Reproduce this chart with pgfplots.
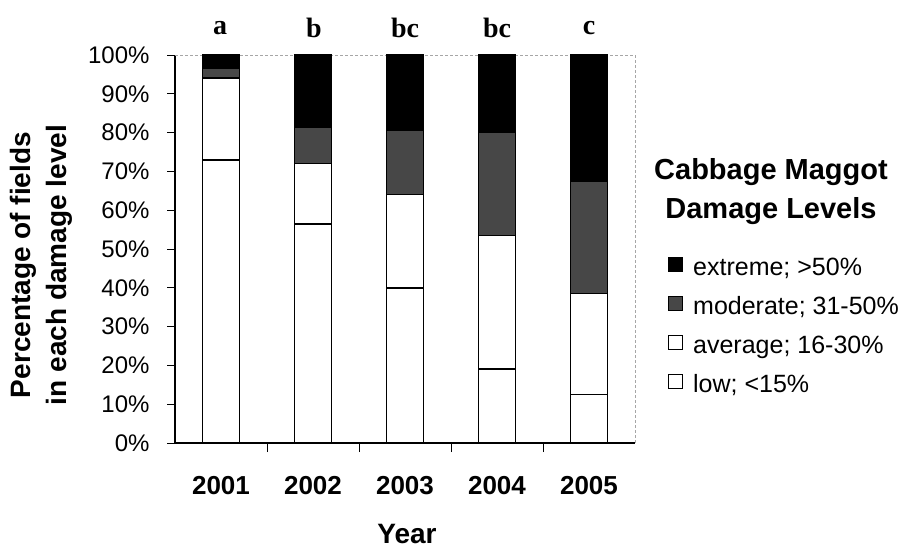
\documentclass[border=0pt]{standalone}
\usepackage{pgfplots}
\pgfplotsset{compat=1.18}
\usepackage{fontspec}
\setmainfont{Liberation Sans}
\newfontfamily\serifb{Liberation Serif}
\begin{document}
\begin{tikzpicture}[x=1pt,y=1pt]
\useasboundingbox (0,0) rectangle (907,550);
\begin{axis}[
  at={(175pt,107pt)}, anchor=south west,
  scale only axis, width=460pt, height=388pt,
  ybar stacked, bar width=37pt,
  xmin=-0.5, xmax=4.5, ymin=0, ymax=100,
  axis x line*=bottom, axis y line*=left,
  axis line style={black, line width=1.2pt},
  xtick={0,1,2,3,4},
  xticklabels={2001,2002,2003,2004,2005},
  xticklabel style={font=\fontsize{26}{30}\selectfont\bfseries, yshift=-22pt},
  major x tick style={draw=none},
  minor xtick={0.5,1.5,2.5,3.5},
  minor x tick style={black, line width=1pt},
  minor tick length=9pt,
  ytick={0,10,...,100},
  yticklabel={\pgfmathprintnumber[assume math mode=true]{\tick}\%},
  yticklabel style={font=\fontsize{24}{27}\selectfont, xshift=-14pt},
  major y tick style={black, line width=1pt},
  major tick length=8pt,
  tick align=outside,
  clip=false,
  reverse legend,
  legend style={draw=none, fill=none, inner sep=0pt, at={(1.0717,0.298)}, anchor=west,
    font=\fontsize{25}{29}\selectfont, row sep=16pt,
    nodes={text height=16pt, text depth=5pt, inner ysep=0pt},
    /tikz/every odd column/.append style={column sep=8pt}},
  legend cell align=left,
  legend image code/.code={\draw[#1, line width=1pt] (0pt,-2pt) rectangle (14pt,12pt);},
]
\addplot[fill=white, draw=black, line width=1.6pt] coordinates {(0,73) (1,56.5) (2,40) (3,19) (4,12.5)};
\addlegendentry{low; <15\%}
\addplot[fill=white, draw=black, line width=1.6pt] coordinates {(0,21) (1,15.5) (2,24) (3,34.5) (4,26)};
\addlegendentry{average; 16-30\%}
\addplot[fill=black!72, draw=black, line width=1.6pt] coordinates {(0,2.5) (1,9.5) (2,16.5) (3,26.5) (4,29)};
\addlegendentry{moderate; 31-50\%}
\addplot[fill=black, draw=black, line width=1.6pt] coordinates {(0,3.5) (1,18.5) (2,19.5) (3,20) (4,32.5)};
\addlegendentry{extreme; >50\%}
\draw[black!35, densely dashed, line width=0.6pt] (rel axis cs:0,1) -- (rel axis cs:1,1) -- (rel axis cs:1,0);
\end{axis}
\begin{scope}[font=\serifb\fontsize{28}{32}\selectfont\bfseries]
\node at (220,522) {a};
\node at (314,522) {b};
\node at (405,522) {bc};
\node at (497,522) {bc};
\node at (589,522) {c};
\end{scope}
\node[rotate=90, align=center, font=\fontsize{28}{36}\selectfont\bfseries] at (41,285) {Percentage of fields\\in each damage level};
\node[font=\fontsize{28}{32}\selectfont\bfseries] at (407,16) {Year};
\node[font=\fontsize{29}{33}\selectfont\bfseries] at (771,378) {Cabbage Maggot};
\node[font=\fontsize{29}{33}\selectfont\bfseries] at (771,339) {Damage Levels};
\end{tikzpicture}
\end{document}
